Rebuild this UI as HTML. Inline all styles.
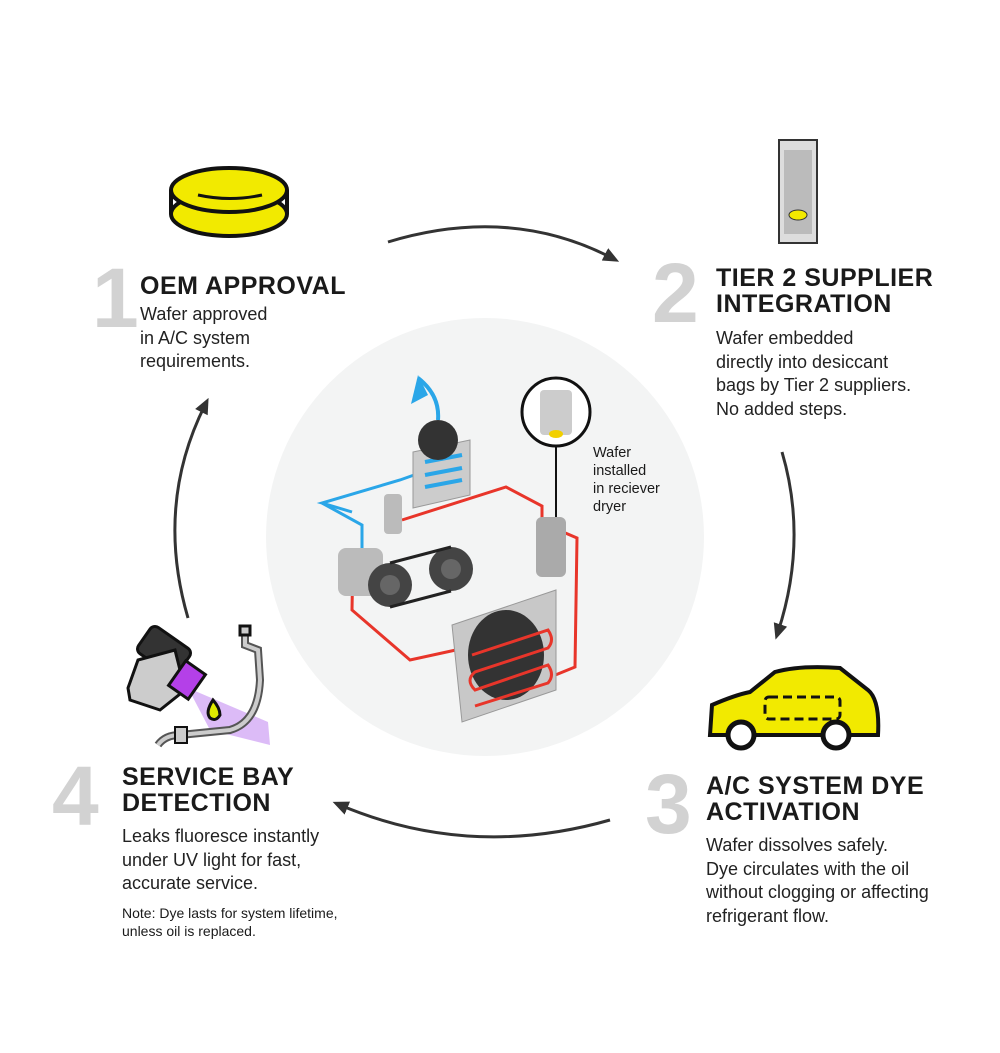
<!DOCTYPE html>
<html><head><style>
body{margin:0;background:#fff;width:1000px;height:1053px;overflow:hidden;font-family:"Liberation Sans",sans-serif;}
svg{position:absolute;left:0;top:0}
.t{position:absolute;color:#1a1a1a}
.h{font-weight:bold;font-size:25px;line-height:26px;letter-spacing:0.5px}
.b{font-size:18px;line-height:23.5px;color:#222}
.n{position:absolute;font-weight:bold;color:#d2d2d2;font-size:84px;line-height:84px}
</style></head><body>
<svg width="1000" height="1053" viewBox="0 0 1000 1053">
<defs><marker id="ar" markerUnits="userSpaceOnUse" markerWidth="16" markerHeight="16" refX="8" refY="8" orient="auto"><path d="M0,1 L16,8 L0,15 z" fill="#333"/></marker></defs>
<circle cx="485" cy="537" r="219" fill="#f3f4f4"/>
<g fill="none" stroke="#333" stroke-width="3">
<path d="M388,242 Q510,205 612,258" marker-end="url(#ar)"/>
<path d="M782,452 Q808,540 778,632" marker-end="url(#ar)"/>
<path d="M610,820 Q470,860 340,805" marker-end="url(#ar)"/>
<path d="M188,618 Q155,505 205,405" marker-end="url(#ar)"/>
</g>
<ellipse cx="229" cy="214" rx="58" ry="22" fill="#f2ea00" stroke="#111" stroke-width="4"/>
<path d="M171,190 v24 M287,190 v24" stroke="#111" stroke-width="4"/>
<ellipse cx="229" cy="190" rx="58" ry="22" fill="#f2ea00" stroke="#111" stroke-width="4"/>
<path d="M198,195 Q230,202 262,195" stroke="#111" stroke-width="3" fill="none"/>
<rect x="779" y="140" width="38" height="103" fill="#ddd" stroke="#333" stroke-width="2"/>
<rect x="784" y="150" width="28" height="84" fill="#bbb"/>
<ellipse cx="798" cy="215" rx="9" ry="5" fill="#f2ea00" stroke="#333"/>
<path d="M710,735 L712,705 Q735,695 750,692 L775,672 Q800,665 840,668 L868,690 Q880,700 878,735 Z" fill="#f2ea00" stroke="#111" stroke-width="4"/>
<rect x="765" y="697" width="75" height="22" rx="4" fill="none" stroke="#111" stroke-width="3" stroke-dasharray="9 5"/>
<circle cx="741" cy="735" r="13" fill="#fff" stroke="#111" stroke-width="5"/>
<circle cx="836" cy="735" r="13" fill="#fff" stroke="#111" stroke-width="5"/>
<path d="M188,688 L268,722 L270,745 L210,730 Z" fill="#c58ef2" opacity="0.6"/>
<g stroke="#111" stroke-width="3">
<rect x="140" y="635" width="48" height="32" rx="6" transform="rotate(35 164 651)" fill="#333"/>
<path d="M138,660 L175,650 L185,690 L160,710 L130,700 L128,688 Z" fill="#ccc"/>
<rect x="175" y="665" width="24" height="30" transform="rotate(35 187 680)" fill="#b440e8"/>
<path d="M213,700 Q205,712 210,718 Q216,722 220,715 Q220,708 213,700Z" fill="#e0ea00"/>
<path d="M158,745 Q165,735 180,735 L230,730 Q258,722 260,680 L258,650 L245,645 V632" fill="none" stroke="#555" stroke-width="8"/>
<path d="M158,745 Q165,735 180,735 L230,730 Q258,722 260,680 L258,650 L245,645 V632" fill="none" stroke="#ccc" stroke-width="4"/>
<rect x="240" y="626" width="10" height="9" fill="#ccc"/>
<rect x="175" y="727" width="12" height="16" fill="#ccc" stroke-width="2"/>
</g>
<g fill="none" stroke-width="3">
<path d="M352,512 L322,503 L400,480 L462,458" stroke="#2aa6e8"/>
<path d="M322,503 L362,525 L362,548" stroke="#2aa6e8"/>
<path d="M402,520 L506,487 L542,506 L542,522 M563,532 L577,538 L575,667 L548,678" stroke="#e8352a"/>
<path d="M353,554 L352,610 L410,660 L465,648" stroke="#e8352a"/>
<path d="M418,378 Q440,395 438,420" stroke="#2aa6e8" stroke-width="4"/>
<path d="M556,442 V517" stroke="#111" stroke-width="2"/>
</g>
<path d="M411,404 L418,375 L428,395Z" fill="#2aa6e8"/>
<polygon points="413,452 470,440 470,495 413,508" fill="#ccc" stroke="#999"/>
<path d="M425,462 L462,455 M425,475 L462,468 M425,487 L462,480" stroke="#2aa6e8" stroke-width="4"/>
<circle cx="438" cy="440" r="20" fill="#333"/>
<rect x="384" y="494" width="18" height="40" rx="4" fill="#bbb"/>
<rect x="536" y="517" width="30" height="60" rx="6" fill="#aaa"/>
<circle cx="556" cy="412" r="34" fill="#fff" stroke="#111" stroke-width="3"/>
<rect x="540" y="390" width="32" height="45" rx="4" fill="#ccc"/>
<ellipse cx="556" cy="434" rx="7" ry="4" fill="#f2d000"/>
<rect x="338" y="548" width="45" height="48" rx="8" fill="#bbb"/>
<circle cx="390" cy="585" r="22" fill="#444"/><circle cx="390" cy="585" r="10" fill="#666"/>
<circle cx="451" cy="569" r="22" fill="#444"/><circle cx="451" cy="569" r="10" fill="#666"/>
<path d="M390,563 L451,547 M390,607 L451,591" stroke="#222" stroke-width="3"/>
<polygon points="452,625 556,590 556,690 462,722" fill="#c8c8c8" stroke="#999"/>
<ellipse cx="506" cy="655" rx="38" ry="45" fill="#333"/>
<path d="M472,655 L548,630 Q555,640 548,648 L475,672 Q465,680 475,690 L548,665 Q555,675 548,683 L475,706" fill="none" stroke="#e8352a" stroke-width="3"/>
</svg>
<div class="n" style="left:92px;top:256px">1</div>
<div class="t h" style="left:140px;top:273px">OEM APPROVAL</div>
<div class="t b" style="left:140px;top:303px">Wafer approved<br>in A/C system<br>requirements.</div>
<div class="n" style="left:652px;top:251px">2</div>
<div class="t h" style="left:716px;top:265px">TIER 2 SUPPLIER<br>INTEGRATION</div>
<div class="t b" style="left:716px;top:327px">Wafer embedded<br>directly into desiccant<br>bags by Tier 2 suppliers.<br>No added steps.</div>
<div class="n" style="left:645px;top:762px">3</div>
<div class="t h" style="left:706px;top:773px">A/C SYSTEM DYE<br>ACTIVATION</div>
<div class="t b" style="left:706px;top:834px">Wafer dissolves safely.<br>Dye circulates with the oil<br>without clogging or affecting<br>refrigerant flow.</div>
<div class="n" style="left:52px;top:754px">4</div>
<div class="t h" style="left:122px;top:764px">SERVICE BAY<br>DETECTION</div>
<div class="t b" style="left:122px;top:825px">Leaks fluoresce instantly<br>under UV light for fast,<br>accurate service.</div>
<div class="t" style="left:122px;top:904px;font-size:14px;line-height:18px">Note: Dye lasts for system lifetime,<br>unless oil is replaced.</div>
<div class="t" style="left:593px;top:444px;font-size:14.5px;line-height:18px">Wafer<br>installed<br>in reciever<br>dryer</div>
</body></html>
